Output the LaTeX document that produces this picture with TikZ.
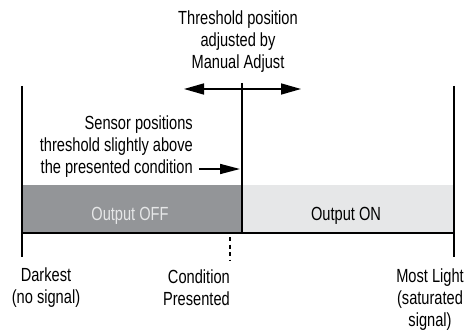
\documentclass[tikz,border=0pt]{standalone}
\usepackage{fontspec}
\setmainfont{Liberation Sans}[FakeStretch=0.77]
\usepackage{xcolor}
\usepackage{tikz}
\usetikzlibrary{positioning,arrows.meta}
\definecolor{offgray}{HTML}{939598}
\definecolor{ongray}{HTML}{E6E7E8}
\tikzset{
  label/.style={inner sep=0pt, align=center, font=\fontsize{19}{22}\selectfont},
  rail/.style={draw, line width=2pt},
  base/.style={draw, line width=2.6pt},
  bigarrow/.style={line width=1.6pt, {Triangle[length=20pt,width=11pt]}-{Triangle[length=20pt,width=11pt]}},
  pointer/.style={line width=1.6pt, -{Triangle[length=20pt,width=10pt]}},
  marker/.style={draw, line width=2.8pt, dash pattern=on 4pt off 3.5pt}
}

\begin{document}
\begin{tikzpicture}[x=1pt, y=-1pt]
  \useasboundingbox (0,0) rectangle (465,331);

  % output bands
  \fill[offgray] (21.5,185) rectangle (242,233);
  \fill[ongray] (242,185) rectangle (454,233);
  \node[label, text=ongray] (off) at (130,216) {Output OFF};
  \node[label] (on) at (346,216) {Output ON};

  % scale ends and base line
  \coordinate (leftTop) at (21.5,86);
  \coordinate (leftBot) at (21.5,257);
  \coordinate (rightTop) at (454,86);
  \coordinate (rightBot) at (454,257);
  \draw[rail] (leftTop) -- (leftBot);
  \draw[rail] (rightTop) -- (rightBot);
  \draw[base] (21.5,233) -- (454,233);

  % threshold
  \coordinate (thrTop) at (242,83);
  \coordinate (thrBot) at (242,233);
  \draw[rail] (thrTop) -- (thrBot);
  \coordinate (adjL) at (184,89);
  \coordinate (adjR) at (301,89);
  \draw[bigarrow] (adjL) -- (adjR);
  \node[label] (adjust) at (238,42) {Threshold position\\adjusted by\\Manual Adjust};

  % sensor note
  \node[label, align=right, anchor=east] (sensor) at (193,147) {Sensor positions\\threshold slightly above\\the presented condition};
  \coordinate (ptrStart) at (199,169);
  \coordinate (ptrEnd) at (240,169);
  \draw[pointer] (ptrStart) -- (ptrEnd);

  % presented condition
  \coordinate (condTop) at (230,237);
  \coordinate (condBot) at (230,261);
  \draw[marker] (condTop) -- (condBot);
  \node[label, align=right, anchor=east] (cond) at (230,288) {Condition\\Presented};

  % scale labels
  \node[label] (dark) at (46,288) {Darkest\\(no signal)};
  \node[label] (light) at (430,300) {Most Light\\(saturated\\signal)};
\end{tikzpicture}
\end{document}
